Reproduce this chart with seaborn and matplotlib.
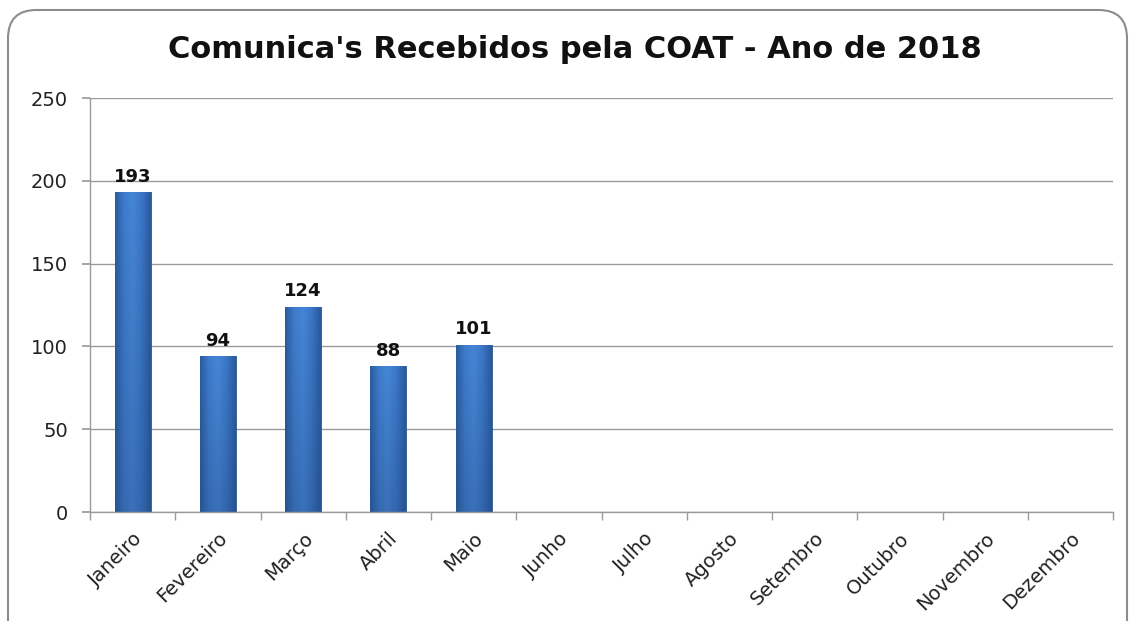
import matplotlib
matplotlib.use("Agg")
import matplotlib.pyplot as plt
import seaborn as sns
import numpy as np
import pandas as pd
from matplotlib.patches import FancyBboxPatch
from matplotlib.colors import LinearSegmentedColormap

months = ["Janeiro", "Fevereiro", "Março", "Abril", "Maio", "Junho", "Julho",
          "Agosto", "Setembro", "Outubro", "Novembro", "Dezembro"]
values = [193, 94, 124, 88, 101, 0, 0, 0, 0, 0, 0, 0]
labels_shown = [193, 94, 124, 88, 101]
title = "Comunica's Recebidos pela COAT - Ano de 2018"

sns.set_theme(style="white")
plt.rcParams['font.family'] = ['DejaVu Sans']

df = pd.DataFrame({"mes": months, "valor": values})

fig = plt.figure(figsize=(11.34, 6.21), dpi=100)
ax = fig.add_axes([90/1134, 1 - 512/621, (1113-90)/1134, (512-98)/621])

sns.barplot(data=df, x="mes", y="valor", ax=ax, color="#3A75C4", width=0.42,
            saturation=1, edgecolor="#2a5690", linewidth=0.6)

ax.set_ylim(0, 250)
ax.set_xlim(-0.5, 11.5)
ax.set_yticks([0, 50, 100, 150, 200, 250])
ax.yaxis.grid(True, color="#9a9a9a", linewidth=1)
ax.set_axisbelow(True)
ax.set_xlabel("")
ax.set_ylabel("")

# gradient fill on bars
cmap = LinearSegmentedColormap.from_list("g", ["#2b5ca0", "#3f7ccc", "#4686d6", "#3b76c6", "#2b5a9c"])
grad = np.linspace(0, 1, 64).reshape(1, -1)
for p in ax.patches:
    x0, y0 = p.get_x(), p.get_y()
    w, h = p.get_width(), p.get_height()
    if h <= 0:
        continue
    im = ax.imshow(grad, cmap=cmap, aspect="auto", extent=[x0, x0 + w, y0, y0 + h],
                   zorder=p.get_zorder() + 0.1)
    im.set_clip_path(p)
    vg = np.zeros((64, 1, 4))
    vg[..., 0:3] = np.array([0.12, 0.25, 0.45])
    vg[:, 0, 3] = np.linspace(0.0, 0.3, 64)
    im2 = ax.imshow(vg, aspect="auto", extent=[x0, x0 + w, y0, y0 + h], origin="upper",
                    zorder=p.get_zorder() + 0.2)
    im2.set_clip_path(p)
ax.set_xlim(-0.5, 11.5)
ax.set_ylim(0, 250)

for i, v in enumerate(labels_shown):
    ax.text(i, v + 4, str(v), ha="center", va="bottom", fontsize=13,
            fontweight="bold", color="#111111")

for s in ["top", "right"]:
    ax.spines[s].set_visible(False)
ax.spines["left"].set_color("#9a9a9a")
ax.spines["bottom"].set_color("#9a9a9a")
ax.spines["left"].set_linewidth(1)
ax.spines["bottom"].set_linewidth(1)

ax.tick_params(axis="y", which="both", left=True, length=6, color="#9a9a9a",
               labelsize=14, labelcolor="#222222", pad=10)
ax.set_xticks(range(12))
ax.set_xticklabels(months, rotation=45, ha="right", rotation_mode="anchor",
                   fontsize=14, color="#222222")
ax.tick_params(axis="x", which="major", bottom=False, pad=6)
ax.set_xticks(np.arange(-0.5, 12, 1), minor=True)
ax.tick_params(axis="x", which="minor", bottom=True, length=6, color="#9a9a9a")

fig.text(575/1134, 1 - 50/621, title, ha="center", va="center",
         fontsize=22, fontweight="bold", color="#111111")

border = FancyBboxPatch((8/1134, -0.05), (1127-8)/1134, 1 - 10/621 + 0.05,
                        boxstyle="round,pad=0,rounding_size=0.025",
                        transform=fig.transFigure, fill=False,
                        edgecolor="#8c8c8c", linewidth=1.5, mutation_aspect=1134/621)
fig.patches.append(border)

fig.savefig("out.png", dpi=100)
